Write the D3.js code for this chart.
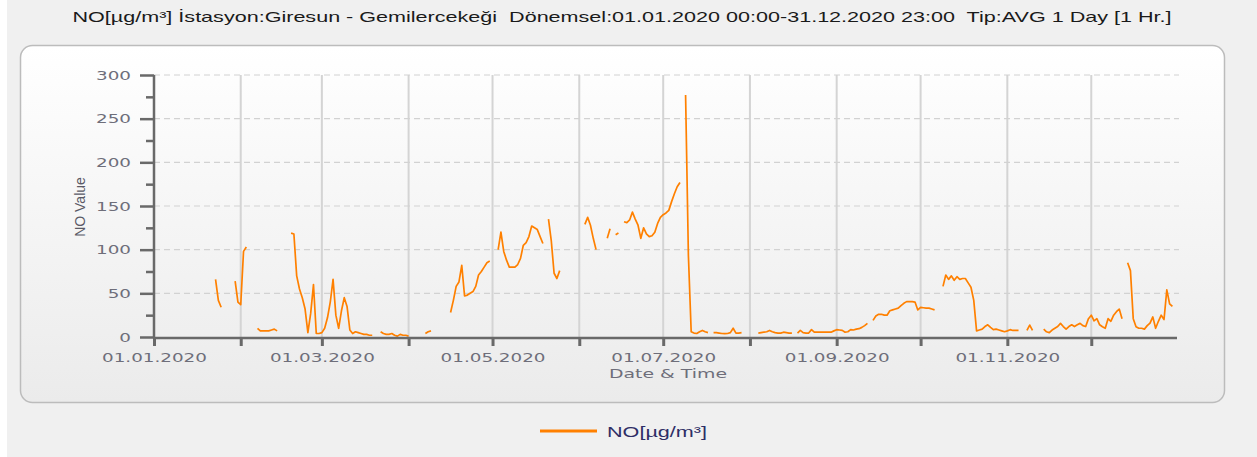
<!DOCTYPE html>
<html>
<head>
<meta charset="utf-8">
<script src="https://cdn.jsdelivr.net/npm/d3@7"></script>
<style>
  body { margin: 0; background: #f0f0f0; }
  svg { display: block; }
</style>
</head>
<body>
<svg id="chart" width="1257" height="457"></svg>
<script>
// daily NO averages, one array per month of 2020 (null = no data)
const jan = [null, null, null, null, null, null, null, null, null, null, null, null, null, null, null, null, null, null, null, null, null, null, 66, 42, 34, null, null, null, null, 64, 40];
const feb = [37, 98, 103, null, null, null, 10, 7, 7, 7, 7, 8, 9, 7, null, null, null, null, 119, 118, 70, 55, 45, 32, 5, 27, 60, 4, 4];
const mar = [5, 10, 22, 40, 66, 25, 10, 30, 45, 35, 8, 4, 6, 5, 4, 3, 3, 2, 2, null, null, 6, 4, 3, 3, 4, 2, 1, 3, 2, 2];
const apr = [1, null, null, null, null, null, 4, 6, 7, null, null, null, null, null, null, 28, 42, 58, 63, 82, 47, 48, 50, 52, 58, 71, 75, 80, 85, 87];
const may = [null, null, 100, 120, 98, 88, 80, 80, 80, 83, 90, 105, 108, 115, 127, 125, 123, 115, 107, null, 135, 110, 73, 67, 76, null, null, null, null, null, null];
const jun = [null, null, 129, 137, 128, 113, 100, null, null, null, 113, 124, null, 117, 119, null, 132, 131, 134, 143, 135, 128, 113, 125, 118, 115, 116, 120, 130, 137];
const jul = [140, 142, 145, 155, 164, 172, 177, null, 277, 94, 6, 4.5, 4, 6, 7.5, 6, 5, null, 5, 5, 4.5, 4, 3.8, 4, 5, 10, 4.5, 4.5, 5, null, null];
const aug = [null, null, null, 4.5, 5, 5.5, 6, 7.5, 6, 5, 4.5, 4.5, 5.5, 5, 4.5, 4.5, null, 4.5, 7.5, 5, 4.5, 4.5, 8.4, 5.5, 5.5, 5.5, 5.5, 5.5, 5.5, 5.5, 7];
const sep = [8.4, 8, 7.6, 5.5, 6, 8.4, 8, 9, 9.5, 11, 13, 15.6, null, 19, 24, 26, 26, 25, 25, 30, 31, 32, 33, 36, 38.6, 40.5, 40.5, 40.5, 40, 31];
const oct = [34, 33.5, 33, 33, 32, 31, null, null, 58, 71, 66, 70, 65, 69, 66, 67, 67, 62, 57, 42, 7, 8, 9, 12, 14, 11, 8.4, 9, 8, 7, 6];
const nov = [7, 8.4, 7.5, 7.5, 7.5, null, null, 7.5, 13.7, 7.5, null, null, null, 9, 6, 5, 8, 10, 12, 15.6, 12, 9, 12, 14, 12, 14, 15.6, 13, 12, 21];
const dec = [25, 18.5, 21, 14, 11.8, 10, 21, 18, 25, 29, 32, 21, null, 85, 76, 21, 11.8, 10, 10, 9, 13, 16, 23, 10, 18, 25, 20, 54, 38, 35, null];

const year = 2020;
const yTicks = [0, 50, 100, 150, 200, 250, 300];
const yMinorTicks = [25, 75, 125, 175, 225, 275];
const titleText = "NO[µg/m³] İstasyon:Giresun - Gemilercekeği  Dönemsel:01.01.2020 00:00-31.12.2020 23:00  Tip:AVG 1 Day [1 Hr.]";
const seriesName = "NO[µg/m³]";

const months = [jan, feb, mar, apr, may, jun, jul, aug, sep, oct, nov, dec];
const data = [];
months.forEach((vals, m) => {
    vals.forEach((v, i) => data.push({ date: new Date(Date.UTC(year, m, i + 1)), value: v }));
});

const svg = d3.select("#chart");
const sx = 1.41; // the whole picture is stretched horizontally
const orange = "#ff8000";

// panel background
const defs = svg.append("defs");
const grad = defs.append("linearGradient")
    .attr("id", "panelGrad")
    .attr("x1", 0).attr("y1", 0).attr("x2", 0).attr("y2", 1);
grad.append("stop").attr("offset", "0%").attr("stop-color", "#ffffff");
grad.append("stop").attr("offset", "100%").attr("stop-color", "#ebebeb");

svg.append("rect")
    .attr("x", 0).attr("y", 0).attr("width", 7).attr("height", 457)
    .attr("fill", "#ffffff");

svg.append("rect")
    .attr("x", 20.5).attr("y", 45.5)
    .attr("width", 1204).attr("height", 357)
    .attr("rx", 12).attr("ry", 12)
    .attr("fill", "url(#panelGrad)")
    .attr("stroke", "#bcbcbc")
    .attr("stroke-width", 1.5);

// title
svg.append("text")
    .attr("x", 622).attr("y", 22)
    .attr("text-anchor", "middle")
    .attr("font-family", "Liberation Sans, Arial, sans-serif")
    .attr("font-size", 15)
    .attr("fill", "#1a1a1a")
    .attr("textLength", 1099)
    .attr("lengthAdjust", "spacingAndGlyphs")
    .style("white-space", "pre")
    .text(titleText);

const x = d3.scaleUtc()
    .domain([new Date(Date.UTC(year, 0, 1)), new Date(Date.UTC(year + 1, 0, 1))])
    .range([154, 1178]);

const y = d3.scaleLinear()
    .domain([0, 300])
    .range([337, 75]);

// month starts inside the year (no tick at the far end)
const monthStarts = d3.utcMonth.range(new Date(Date.UTC(year, 0, 1)), new Date(Date.UTC(year, 11, 2)));

// vertical month grid
svg.append("g")
    .selectAll("line")
    .data(monthStarts.slice(1))
    .join("line")
    .attr("x1", d => x(d)).attr("x2", d => x(d))
    .attr("y1", y(300)).attr("y2", y(0))
    .attr("stroke", "#d4d4d4")
    .attr("stroke-width", 2);

// horizontal dashed grid
svg.append("g")
    .selectAll("line")
    .data(yTicks.slice(1))
    .join("line")
    .attr("x1", 154).attr("x2", 1179)
    .attr("y1", d => y(d)).attr("y2", d => y(d))
    .attr("stroke", "#d2d2d2")
    .attr("stroke-width", 1.2)
    .attr("stroke-dasharray", "6,4");

// data line
const line = d3.line()
    .defined(d => d.value != null)
    .x(d => x(d.date))
    .y(d => y(d.value));

svg.append("path")
    .datum(data)
    .attr("fill", "none")
    .attr("stroke", orange)
    .attr("stroke-width", 1.7)
    .attr("stroke-linejoin", "round")
    .attr("d", line);

const axisColor = "#696969";
const labelColor = "#6e6e7a";

// x axis
const xAxis = svg.append("g")
    .attr("transform", "translate(0,338)")
    .call(d3.axisBottom(x)
        .tickValues(monthStarts)
        .tickSize(8)
        .tickPadding(5)
        .tickFormat(d => d.getUTCMonth() % 2 === 0 ? d3.utcFormat("%d.%m.%Y")(d) : ""));
xAxis.select(".domain")
    .attr("d", "M154,0H1177")
    .attr("stroke", axisColor)
    .attr("stroke-width", 2.5);
xAxis.selectAll(".tick line")
    .attr("stroke", axisColor)
    .attr("stroke-width", 3);
xAxis.selectAll(".tick text")
    .attr("font-family", "DejaVu Sans, Verdana, sans-serif")
    .attr("font-size", 13)
    .attr("fill", labelColor)
    .attr("transform", `scale(${sx},1)`)
    .attr("dy", "1em")
    .attr("y", 11);

// y axis
const yAxis = svg.append("g")
    .attr("transform", "translate(154,0)")
    .call(d3.axisLeft(y).tickValues(yTicks).tickSize(14).tickPadding(0));
yAxis.select(".domain")
    .attr("d", `M0,${y(300)}V${y(0) + 1}`)
    .attr("stroke", axisColor)
    .attr("stroke-width", 2.5);
yAxis.selectAll(".tick line")
    .attr("stroke", axisColor)
    .attr("stroke-width", 2.5);
yAxis.selectAll(".tick text")
    .attr("font-family", "DejaVu Sans, Verdana, sans-serif")
    .attr("font-size", 13)
    .attr("fill", labelColor)
    .attr("x", -23 / sx)
    .attr("transform", `scale(${sx},1)`);

const yMinor = svg.append("g")
    .attr("transform", "translate(154,0)")
    .call(d3.axisLeft(y).tickValues(yMinorTicks).tickSize(8).tickFormat(""));
yMinor.select(".domain").remove();
yMinor.selectAll(".tick line")
    .attr("stroke", axisColor)
    .attr("stroke-width", 2.5);

// axis titles
svg.append("text")
    .attr("x", 668).attr("y", 378)
    .attr("text-anchor", "middle")
    .attr("font-family", "DejaVu Sans, Verdana, sans-serif")
    .attr("font-size", 13)
    .attr("fill", labelColor)
    .attr("textLength", 118)
    .attr("lengthAdjust", "spacingAndGlyphs")
    .text("Date & Time");

svg.append("text")
    .attr("transform", "translate(85,207) rotate(-90)")
    .attr("text-anchor", "middle")
    .attr("font-family", "Liberation Sans, Arial, sans-serif")
    .attr("font-size", 14)
    .attr("fill", "#5a5a66")
    .text("NO Value");

// legend
svg.append("line")
    .attr("x1", 540).attr("x2", 597)
    .attr("y1", 431).attr("y2", 431)
    .attr("stroke", orange)
    .attr("stroke-width", 3);

svg.append("text")
    .attr("x", 607).attr("y", 437)
    .attr("font-family", "Liberation Sans, Arial, sans-serif")
    .attr("font-size", 15)
    .attr("fill", "#2e2e66")
    .attr("textLength", 100)
    .attr("lengthAdjust", "spacingAndGlyphs")
    .text(seriesName);
</script>
</body>
</html>
